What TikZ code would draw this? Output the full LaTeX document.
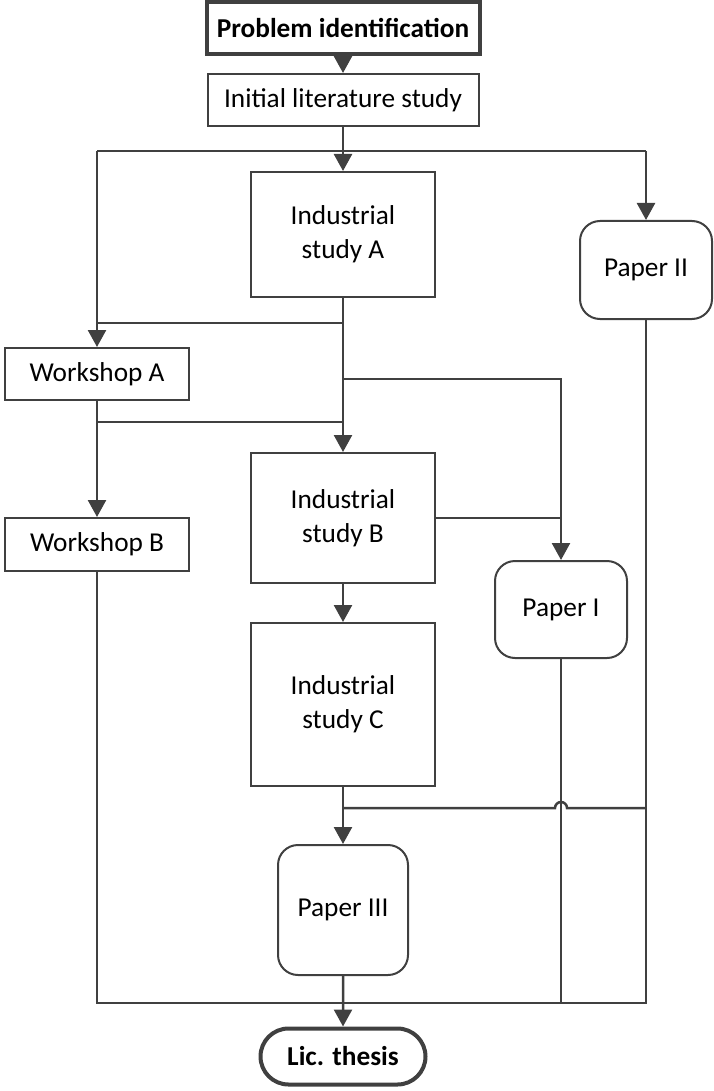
\documentclass[tikz,border=0pt]{standalone}
\usepackage{fontspec}
\setmainfont{Carlito}
\usetikzlibrary{arrows.meta,shapes.misc}
\definecolor{linegray}{HTML}{404040}
\tikzset{
  box/.style={draw=linegray, line width=2pt, fill=white, inner sep=0pt, align=center,
    font=\fontsize{27.3}{34}\selectfont},
  thickbox/.style={box, line width=4pt},
  paperbox/.style={box, rounded corners=20pt},
  conn/.style={draw=linegray, line width=2.5pt},
  arr/.style={conn, -{Triangle[length=17pt,width=18pt]}},
}
\begin{document}
\begin{tikzpicture}[x=1pt,y=-1pt]
\useasboundingbox (0,0) rectangle (713,1091);

% process boxes
\node[thickbox, minimum width=273pt, minimum height=52pt, font=\fontsize{27.3}{34}\selectfont\bfseries] (pi) at (343,28) {Problem identification};
\node[box, minimum width=271pt, minimum height=52pt] (ils) at (343,100) {Initial literature study};
\node[box, minimum width=184pt, minimum height=125pt] (isa) at (343,234.5) {Industrial\\study A};
\node[box, minimum width=184pt, minimum height=130pt] (isb) at (343,518) {Industrial\\study B};
\node[box, minimum width=184pt, minimum height=163pt] (isc) at (343,704.5) {Industrial\\study C};
\node[box, minimum width=184pt, minimum height=52pt] (wsa) at (97,374) {Workshop A};
\node[box, minimum width=184pt, minimum height=53pt] (wsb) at (97,544.5) {Workshop B};

% publications
\node[paperbox, minimum width=132pt, minimum height=98pt] (p2) at (646,270) {Paper II};
\node[paperbox, minimum width=132pt, minimum height=97pt] (p1) at (561,609.5) {Paper I};
\node[paperbox, minimum width=130pt, minimum height=130pt] (p3) at (343,910) {Paper III};
\node[thickbox, rounded rectangle, minimum width=165pt, minimum height=56pt, font=\fontsize{27.3}{34}\selectfont\bfseries] (lic) at (343,1056.5) {Lic. thesis};

% junction points
\coordinate (tl) at (97,151);
\coordinate (tr) at (646,151);
\coordinate (ja) at (343,323);
\coordinate (jal) at (97,323);
\coordinate (jb) at (343,379);
\coordinate (jbr) at (561,379);
\coordinate (jcl) at (97,422);
\coordinate (jcr) at (343,422);
\coordinate (jd) at (343,808);
\coordinate (hopl) at (555,808);
\coordinate (jdr) at (646,808);
\coordinate (bl) at (97,1003);
\coordinate (br) at (646,1003);
\coordinate (bp) at (561,1003);

% connectors
\draw[arr] (pi) -- (ils);
\draw[conn] (tl) -- (tr);
\draw[arr] (ils) -- (isa);
\draw[arr] (tl) -- (wsa);
\draw[arr] (tr) -- (p2);
\draw[arr] (isa) -- (isb);
\draw[conn] (ja) -- (jal);
\draw[arr] (jb) -- (jbr) -- (p1);
\draw[arr] (wsa) -- (wsb);
\draw[conn] (jcl) -- (jcr);
\draw[conn] (isb.east) -- (isb.east -| p1);
\draw[arr] (isb) -- (isc);
\draw[arr] (isc) -- (p3);
\draw[conn] (jd) -- (hopl) arc[start angle=180, end angle=0, radius=6pt] -- (jdr);
\draw[conn] (p2.south) -- (br) -- (bl) -- (wsb.south);
\draw[conn] (p1.south) -- (bp);
\draw[arr] (p3) -- (lic);
\end{tikzpicture}
\end{document}
